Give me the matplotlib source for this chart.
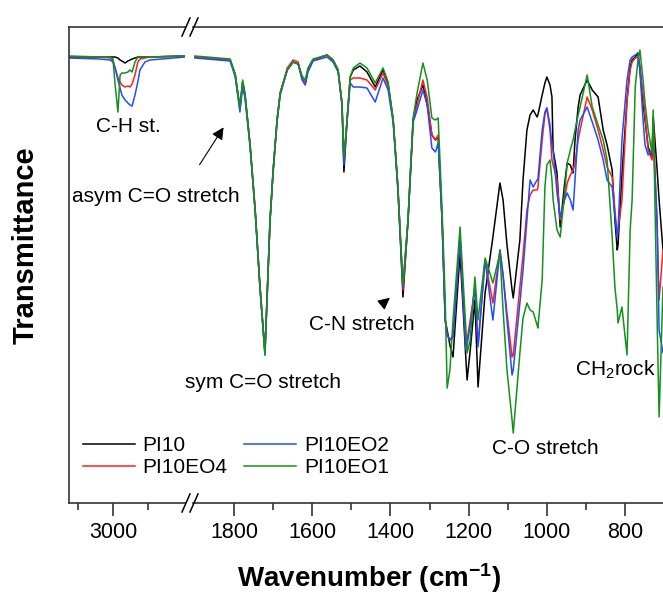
import matplotlib
matplotlib.use('Agg')
import matplotlib.pyplot as plt
from matplotlib.lines import Line2D

plt.rcParams['font.family'] = ['Liberation Sans', 'DejaVu Sans']
plt.rcParams['mathtext.fontset'] = 'custom'
plt.rcParams['mathtext.rm'] = 'Liberation Sans'
plt.rcParams['mathtext.bf'] = 'Liberation Sans:bold'
plt.rcParams['mathtext.default'] = 'rm'

# series names and colours
labels = ['PI10', 'PI10EO4', 'PI10EO2', 'PI10EO1']
colors = ['black', '#ff1f1f', '#1f4cff', '#13921a']

# C-H region (left part of the broken axis)
wn_left = [3124, 3037, 3008, 3000, 2994, 2986, 2980, 2975, 2966, 2958,
           2952, 2946, 2938, 2930, 2924, 2910, 2896, 2797]
pi10_left = [89.2, 89.2, 89.2, 89.2, 89.2, 89.0, 88.6, 88.4, 88.0, 88.4,
             88.6, 88.8, 89.0, 89.2, 89.2, 89.2, 89.2, 89.4]
eo4_left = [89.2, 89.2, 89.0, 88.6, 87.0, 85.0, 84.2, 83.6, 83.2, 83.4,
            83.2, 83.8, 85.6, 88.2, 88.8, 89.0, 89.2, 89.4]
eo2_left = [89.0, 88.8, 88.6, 88.2, 87.0, 84.6, 83.0, 81.6, 80.6, 80.0,
            79.6, 79.4, 81.6, 84.2, 86.6, 88.2, 88.6, 89.2]
eo1_left = [89.4, 89.2, 89.2, 88.8, 83.6, 78.2, 85.6, 86.0, 86.0, 86.2,
            86.6, 86.2, 88.2, 89.2, 89.2, 89.2, 89.2, 89.4]

# fingerprint region (right part)
wn_right = [1900, 1810, 1797, 1785, 1778, 1772, 1759, 1746, 1734, 1721,
            1708, 1700, 1690, 1682, 1664, 1649, 1636, 1626, 1618, 1611,
            1598, 1562, 1547, 1534, 1524, 1519, 1511, 1503, 1495, 1478,
            1460, 1439, 1419, 1406, 1393, 1381, 1368, 1355, 1342, 1332,
            1317, 1306, 1294, 1285, 1278, 1268, 1260, 1255, 1248, 1240,
            1222, 1207, 1204, 1196, 1184, 1176, 1158, 1138, 1120, 1112,
            1102, 1089, 1086, 1069, 1061, 1051, 1043, 1035, 1025, 1023,
            1012, 1005, 1000, 992, 987, 984, 974, 966, 955, 948,
            940, 933, 928, 920, 915, 897, 884, 869, 856, 846,
            833, 826, 820, 818, 808, 795, 787, 782, 774, 767,
            762, 754, 749, 741, 731, 728, 718, 713, 703]
pi10_right = [89.2, 88.6, 85.6, 79.0, 84.2, 81.6, 71.6, 58.6, 43.6, 30.2,
              56.6, 66.6, 76.6, 82.0, 86.6, 88.2, 87.8, 85.0, 83.8, 86.6,
              88.6, 89.6, 88.6, 86.6, 80.0, 66.2, 76.6, 85.2, 86.6, 87.4,
              86.2, 83.2, 86.6, 83.8, 76.6, 63.2, 41.2, 56.6, 76.6, 80.6,
              83.6, 79.6, 73.6, 72.6, 73.2, 56.6, 36.6, 34.6, 31.6, 29.2,
              50.0, 28.6, 24.6, 30.6, 40.6, 23.2, 42.0, 53.2, 64.0, 60.6,
              51.6, 42.6, 41.0, 52.6, 64.6, 74.6, 77.6, 78.6, 77.2, 77.6,
              81.6, 84.0, 85.2, 83.6, 81.2, 70.6, 66.0, 55.2, 63.6, 68.0,
              67.6, 66.0, 72.6, 79.2, 81.6, 84.6, 82.6, 81.2, 74.6, 71.6,
              66.6, 56.6, 50.6, 51.6, 65.6, 80.6, 87.2, 88.6, 89.2, 90.0,
              86.6, 80.0, 76.6, 71.2, 69.2, 77.2, 66.6, 60.6, 50.6]
eo4_right = [89.2, 88.6, 85.6, 79.0, 84.2, 81.6, 71.6, 58.6, 43.6, 30.2,
             56.6, 66.6, 76.6, 82.0, 87.0, 88.6, 88.2, 85.0, 84.0, 86.6,
             88.6, 89.6, 88.6, 86.6, 80.0, 68.6, 76.6, 84.6, 85.0, 85.0,
             84.6, 82.6, 86.0, 83.4, 76.6, 63.2, 42.6, 56.6, 76.6, 79.6,
             84.6, 81.0, 73.6, 72.6, 73.6, 56.6, 36.6, 33.6, 32.6, 33.6,
             53.2, 30.6, 32.6, 36.6, 43.2, 31.6, 48.6, 40.0, 50.6, 45.6,
             38.0, 29.2, 29.6, 43.2, 49.6, 58.6, 61.6, 62.6, 62.6, 63.0,
             72.6, 77.6, 79.0, 74.6, 68.6, 67.6, 64.6, 56.6, 60.6, 64.0,
             65.6, 66.6, 68.0, 72.6, 74.6, 81.2, 78.6, 74.6, 70.6, 67.2,
             65.2, 58.6, 53.2, 54.6, 60.6, 80.6, 86.6, 88.2, 89.0, 89.2,
             87.6, 81.6, 77.6, 70.6, 68.6, 76.6, 54.6, 40.6, 50.6]
eo2_right = [89.0, 88.4, 85.2, 78.2, 83.2, 81.0, 71.2, 58.2, 43.2, 29.6,
             56.2, 66.2, 76.2, 81.6, 86.6, 88.2, 87.8, 84.6, 83.6, 86.2,
             88.4, 89.2, 88.2, 86.2, 79.6, 67.6, 76.2, 84.0, 83.2, 83.2,
             83.0, 80.2, 85.0, 82.6, 76.0, 62.6, 43.2, 56.6, 76.2, 78.6,
             82.6, 79.6, 71.0, 70.2, 72.0, 56.6, 36.6, 33.6, 32.6, 33.0,
             53.2, 30.6, 31.6, 35.6, 43.2, 31.2, 48.6, 36.6, 50.6, 45.6,
             36.6, 25.6, 26.6, 40.0, 46.6, 56.6, 64.6, 63.2, 64.6, 64.6,
             74.6, 78.2, 79.0, 75.6, 71.6, 70.6, 62.0, 57.2, 60.6, 62.0,
             60.6, 58.6, 64.6, 74.6, 76.6, 79.2, 76.2, 72.6, 68.6, 64.6,
             63.2, 57.6, 53.2, 54.6, 72.6, 84.6, 88.6, 89.2, 89.6, 90.0,
             86.6, 76.6, 71.6, 69.6, 70.6, 72.6, 56.6, 34.6, 30.0]
eo1_right = [89.4, 88.8, 85.8, 79.0, 84.6, 82.0, 71.6, 58.6, 43.6, 29.6,
             56.6, 66.6, 76.6, 82.0, 86.6, 88.2, 87.8, 85.4, 84.6, 87.0,
             88.8, 89.6, 88.6, 86.6, 80.0, 69.2, 76.6, 85.2, 87.0, 88.0,
             87.0, 84.0, 87.0, 84.2, 76.6, 63.2, 43.6, 57.0, 77.0, 82.0,
             88.0, 84.6, 77.0, 76.6, 77.0, 58.6, 40.6, 23.0, 26.6, 36.6,
             55.2, 34.6, 30.0, 32.6, 45.2, 36.6, 49.0, 44.0, 50.0, 38.6,
             26.6, 16.6, 14.0, 30.0, 37.0, 40.0, 38.6, 38.2, 35.6, 35.0,
             44.6, 63.2, 67.6, 68.6, 64.6, 60.6, 54.6, 53.2, 61.6, 68.0,
             70.6, 72.6, 74.6, 77.6, 79.2, 85.6, 79.2, 75.6, 72.6, 68.6,
             53.2, 43.2, 38.6, 36.0, 39.2, 29.6, 54.6, 60.6, 83.2, 88.6,
             90.6, 84.6, 80.0, 74.6, 70.0, 78.6, 36.6, 17.2, 43.2]

left_series = [pi10_left, eo4_left, eo2_left, eo1_left]
right_series = [pi10_right, eo4_right, eo2_right, eo1_right]

W, H = 663, 600
fig = plt.figure(figsize=(W / 100, H / 100), dpi=100)

def box(x0, x1):
    return [x0 / W, 1 - 503 / H, (x1 - x0) / W, (503 - 27) / H]

ax1 = fig.add_axes(box(69, 185))
ax2 = fig.add_axes(box(193, 663))
ax2.patch.set_visible(False)

handles = []
for lab, col, yl, yr in zip(labels, colors, left_series, right_series):
    ax1.plot(wn_left, yl, color=col, lw=1.1)
    h, = ax2.plot(wn_right, yr, color=col, lw=1.1)
    handles.append(h)

ax1.set_xlim(3124, 2797)
ax2.set_xlim(1905, 703)
for ax in (ax1, ax2):
    ax.set_ylim(0, 95.2)
    ax.set_yticks([])
    ax.tick_params(axis='x', which='major', direction='out', length=9,
                   width=1.2, labelsize=15.5, pad=5, color='#333333')
    ax.tick_params(axis='x', which='minor', direction='out', length=5,
                   width=1.2, color='#333333')
    for s in ax.spines.values():
        s.set_linewidth(1.2)
        s.set_color('#333333')

ax1.set_xticks([3000])
ax1.set_xticks([3100, 2900], minor=True)
ax1.spines['right'].set_visible(False)
ax2.set_xticks([1800, 1600, 1400, 1200, 1000, 800])
ax2.set_xticks([1700, 1500, 1300, 1100, 900], minor=True)
ax2.spines['left'].set_visible(False)
ax2.spines['right'].set_visible(False)

# break marks
for xc in (186, 194):
    for yc in (27, 503):
        fig.add_artist(Line2D([(xc - 4) / W, (xc + 4) / W],
                              [1 - (yc + 9) / H, 1 - (yc - 9) / H],
                              transform=fig.transFigure, color='black', lw=1.1))

# peak annotations
fs = 15
ax1.text(2958, 75.2, 'C-H st.', fontsize=fs, ha='center', va='center')
fig.text(156 / W, 1 - 196 / H, 'asym C=O stretch', fontsize=fs,
         ha='center', va='center')
ax2.annotate('', xy=(1823, 75.6), xytext=(1892, 67.2),
             arrowprops=dict(arrowstyle='-|>', color='black', lw=0.8,
                             mutation_scale=18))
ax2.text(1726, 24.2, 'sym C=O stretch', fontsize=fs, ha='center', va='center')
ax2.text(1473, 35.6, 'C-N stretch', fontsize=fs, ha='center', va='center')
ax2.annotate('', xy=(1396, 41.4), xytext=(1424, 39.6),
             arrowprops=dict(arrowstyle='-|>', color='black', lw=0.8,
                             mutation_scale=18))
ax2.text(1005, 11.0, 'C-O stretch', fontsize=fs, ha='center', va='center')
ax2.text(826, 26.6, r'CH$_2$rock', fontsize=fs, ha='center', va='center')

fig.legend(handles, labels, ncol=2, loc='upper left',
           bbox_to_anchor=(75 / W, 1 - 428 / H), frameon=False, fontsize=15,
           handlelength=2.5, handletextpad=0.35, columnspacing=0.8,
           labelspacing=0.15, borderaxespad=0)

fig.text(26 / W, 1 - 245 / H, 'Transmittance', rotation=90, fontsize=21,
         fontweight='bold', ha='center', va='center')
fig.text(369 / W, 1 - 578 / H, r'Wavenumber (cm$^{\mathbf{-1}}$)', fontsize=20,
         fontweight='bold', ha='center', va='center')

fig.savefig('out.png', dpi=100)
